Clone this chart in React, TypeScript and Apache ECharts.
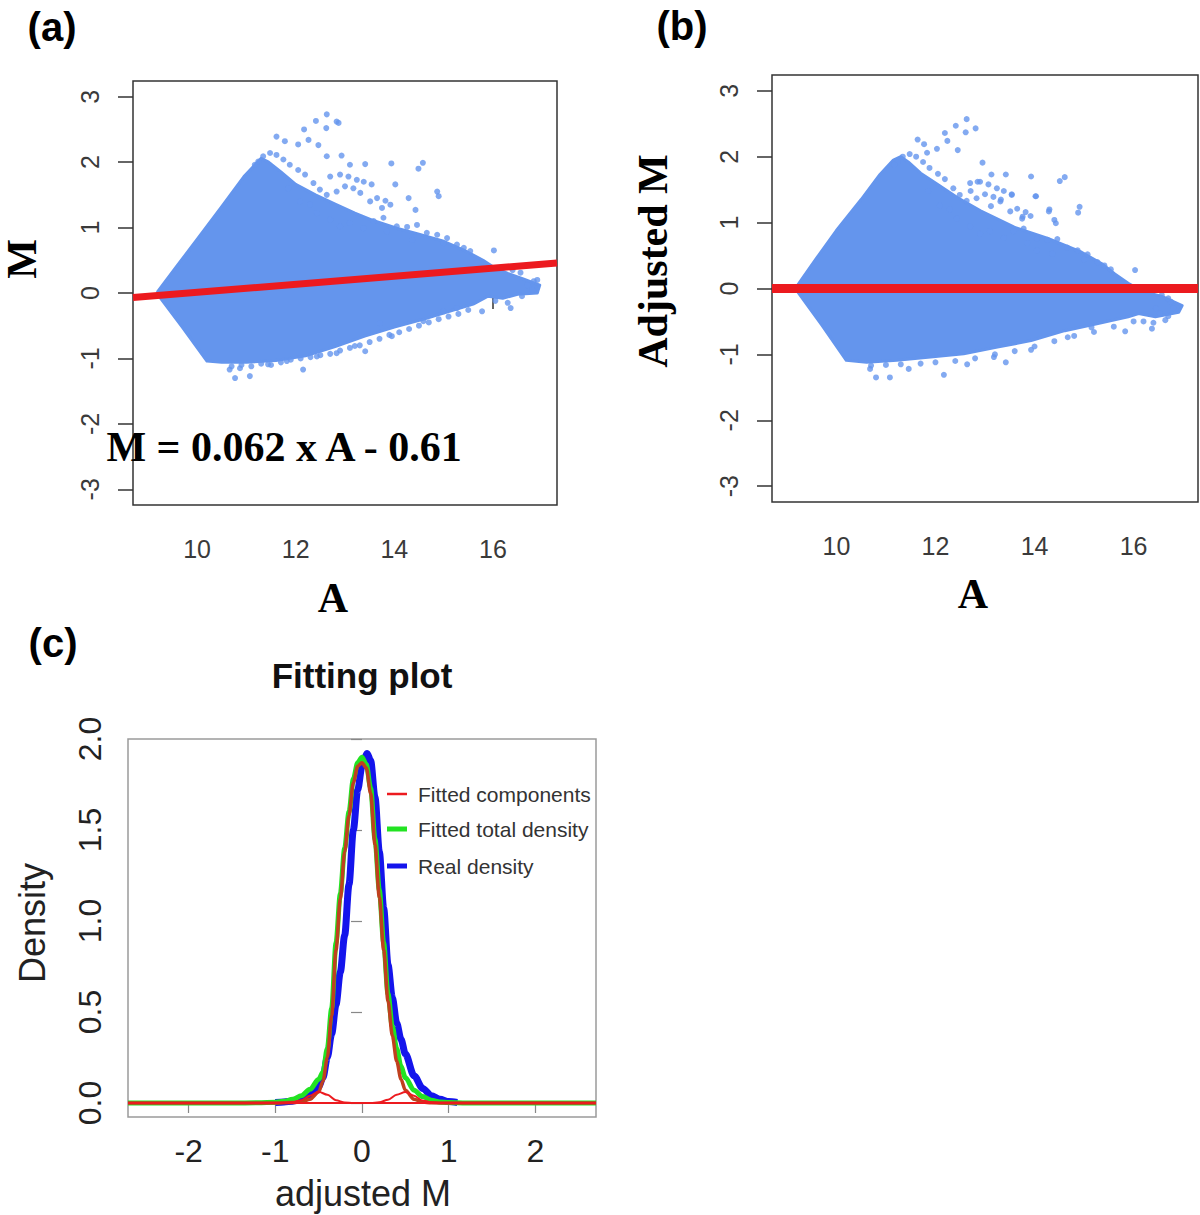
import React, { useEffect, useRef } from "react";
import * as echarts from "echarts";

// ---------- Data ----------
const A_TICKS = [10, 12, 14, 16];
const M_TICKS = [-3, -2, -1, 0, 1, 2, 3];
const ADJ_TICKS = [-2, -1, 0, 1, 2];
const DENS_TICKS = [0, 0.5, 1, 1.5, 2];

// Panel (a): outline of the solid point cloud (A, M)
const CLOUD_A = [
  [9.2, 0.02], [9.6, 0.42], [10.0, 0.82], [10.5, 1.32], [10.95, 1.78], [11.2, 1.98],
  [11.3, 2.06], [11.45, 2.0], [11.7, 1.85], [12.0, 1.66], [12.4, 1.5], [12.8, 1.36],
  [13.2, 1.22], [13.6, 1.1], [14.05, 0.99], [14.5, 0.9], [15.0, 0.79], [15.4, 0.66],
  [15.8, 0.5], [16.0, 0.4], [16.3, 0.3], [16.6, 0.22], [16.95, 0.12], [16.9, 0.0],
  [16.5, -0.02], [16.2, -0.08], [15.9, -0.05], [15.6, -0.17], [15.2, -0.26], [14.6, -0.4],
  [14.0, -0.52], [13.4, -0.66], [12.8, -0.82], [12.2, -0.96], [11.6, -1.03], [11.0, -1.06],
  [10.5, -1.06], [10.2, -1.04], [9.7, -0.52], [9.2, -0.02],
];
// Panel (a): single points outside the solid cloud
const DOTS_A = [
  [12.63, 2.73], [12.83, 2.62], [12.87, 2.6], [12.62, 2.52], [12.41, 2.63], [12.17, 2.5],
  [11.61, 2.39], [11.78, 2.32], [12.05, 2.27], [12.26, 2.34], [12.46, 2.26], [12.63, 2.09],
  [12.93, 2.1], [13.1, 1.96], [13.41, 1.97], [13.94, 1.98], [14.58, 1.99], [14.49, 1.9],
  [12.7, 1.78], [12.9, 1.81], [13.07, 1.78], [13.24, 1.73], [13.38, 1.7], [13.54, 1.66],
  [14.02, 1.66], [14.29, 1.45], [14.43, 1.27], [14.87, 1.55], [14.9, 1.48], [13.65, 1.45],
  [13.82, 1.41], [13.92, 1.35], [13.75, 1.3], [13.51, 1.4], [13.31, 1.53], [13.17, 1.6],
  [13.0, 1.63], [12.83, 1.55], [12.63, 1.5], [12.49, 1.58], [12.36, 1.68], [12.19, 1.81],
  [12.05, 1.88], [11.88, 1.96], [11.75, 2.04], [11.61, 2.11], [11.48, 2.14], [11.34, 2.09],
  [11.24, 2.01], [11.17, 1.96], [11.85, 1.6], [12.09, 1.4], [12.29, 1.35], [12.43, 1.22],
  [12.7, 1.12], [12.9, 1.02], [13.1, 1.07], [13.38, 0.99], [13.58, 1.1], [13.78, 1.15],
  [14.05, 1.02], [14.26, 1.01], [14.46, 1.04], [14.66, 0.92], [14.87, 0.89], [15.07, 0.84],
  [15.27, 0.74], [15.41, 0.69], [15.54, 0.64], [15.0, 0.76], [14.36, 0.81], [13.85, 0.94],
  [16.02, 0.65], [16.56, 0.31], [16.83, 0.18], [16.59, -0.05], [16.36, -0.23], [15.78, -0.28],
  [16.4, 0.35], [16.7, 0.12], [16.9, 0.2], [16.8, 0.05], [16.3, -0.15], [16.05, -0.12],
  [10.77, -1.3], [11.07, -1.27], [12.15, -1.17], [13.41, -0.89], [13.2, -0.81], [12.83, -0.92],
  [11.44, -1.09], [10.66, -1.17], [10.87, -1.15], [13.95, -0.66], [14.59, -0.43], [15.0, -0.28],
  [15.27, -0.23], [13.71, -0.46], [12.43, -0.97], [11.82, -1.04],
  [10.7, -1.12], [10.9, -1.1], [11.1, -1.12], [11.3, -1.08], [11.5, -1.1], [11.7, -1.06],
  [11.9, -1.02], [12.1, -1.0], [12.3, -0.98], [12.5, -0.95], [12.7, -0.93], [12.9, -0.88],
  [13.1, -0.84], [13.3, -0.8], [13.5, -0.75], [13.7, -0.7], [13.9, -0.64], [14.1, -0.6],
  [14.3, -0.55], [14.5, -0.5], [14.7, -0.45], [14.9, -0.4], [15.1, -0.36], [15.3, -0.32],
  [15.5, -0.26],
];
// Panel (a): fitted line M = 0.062 x A - 0.61, end points across the plot
const FIT_A = [[8.7, -0.07], [17.3, 0.46]];

// Panel (b): outline of the solid cloud (A, adjusted M)
const CLOUD_B = [
  [9.19, 0.02], [9.6, 0.46], [10.0, 0.88], [10.5, 1.35], [10.88, 1.73], [11.15, 1.95],
  [11.3, 2.0], [11.45, 1.92], [11.7, 1.75], [12.0, 1.6], [12.44, 1.38], [12.91, 1.18],
  [13.59, 0.93], [14.27, 0.76], [14.95, 0.55], [15.35, 0.38], [15.62, 0.22], [15.89, 0.08],
  [16.17, -0.04], [16.57, -0.12], [16.98, -0.26], [16.91, -0.36], [16.44, -0.43], [16.1, -0.38],
  [15.89, -0.43], [15.28, -0.53], [14.61, -0.64], [13.93, -0.79], [13.25, -0.89], [12.57, -0.99],
  [11.9, -1.04], [11.22, -1.09], [10.61, -1.12], [10.2, -1.09], [9.7, -0.55], [9.19, -0.02],
];
const DOTS_B = [
  [12.63, 2.57], [12.61, 2.37], [12.81, 2.43], [12.41, 2.47], [12.19, 2.36], [12.03, 2.12],
  [11.64, 2.26], [11.77, 2.19], [11.83, 2.06], [12.24, 2.24], [12.45, 2.1], [12.95, 1.91],
  [13.13, 1.73], [13.42, 1.73], [13.93, 1.7], [14.61, 1.69], [14.51, 1.63], [12.85, 1.62],
  [12.71, 1.48], [13.54, 1.42], [14.03, 1.4], [14.91, 1.24], [14.88, 1.15], [14.4, 1.04],
  [14.3, 1.2], [13.32, 1.35], [13.12, 1.25], [13.76, 1.09], [16.03, 0.28], [16.57, -0.1],
  [16.53, -0.38], [16.37, -0.61], [15.83, -0.65], [16.64, -0.48],
  [12.7, 1.6], [12.9, 1.62], [13.07, 1.58], [13.24, 1.52], [13.38, 1.48], [13.54, 1.43],
  [14.02, 1.4], [14.29, 1.17], [14.43, 0.99], [13.65, 1.21], [13.82, 1.16], [13.92, 1.1],
  [13.75, 1.06], [13.51, 1.17], [13.31, 1.32], [13.17, 1.39], [13.0, 1.43], [12.83, 1.37],
  [12.63, 1.33], [12.49, 1.42], [12.36, 1.52], [12.19, 1.66], [12.05, 1.74], [11.88, 1.83],
  [11.75, 1.92], [11.61, 2.0], [11.48, 2.04], [11.34, 2.0], [11.24, 1.92], [11.17, 1.88],
  [11.85, 1.48], [12.09, 1.26], [12.29, 1.2], [12.43, 1.06], [12.7, 0.94], [12.9, 0.83],
  [13.1, 0.87], [13.38, 0.77], [13.58, 0.87], [13.78, 0.91], [14.05, 0.76], [14.26, 0.74],
  [14.46, 0.75], [14.66, 0.62], [14.87, 0.58], [15.07, 0.52], [15.27, 0.4], [15.41, 0.35],
  [15.54, 0.29], [15.0, 0.44], [14.36, 0.53], [14.05, 0.58], [13.85, 0.69],
  [16.3, 0.0], [16.75, -0.2], [16.8, -0.3], [16.2, -0.5], [16.45, -0.3], [16.7, -0.15],
  [12.17, -1.31], [11.08, -1.35], [10.8, -1.35], [10.68, -1.22], [11.46, -1.22], [13.42, -1.12],
  [13.18, -1.04], [12.64, -1.15], [13.93, -0.93], [14.67, -0.74], [15.15, -0.59],
  [10.7, -1.17], [11.0, -1.16], [11.3, -1.15], [11.7, -1.14], [12.0, -1.12], [12.4, -1.1],
  [12.8, -1.06], [13.2, -1.0], [13.6, -0.95], [14.0, -0.88], [14.4, -0.8], [14.8, -0.72],
  [15.2, -0.66], [15.6, -0.58], [16.0, -0.5], [16.4, -0.52], [16.7, -0.42],
];
const FIT_B = [[8.7, 0], [17.3, 0]];

// Panel (c): densities over adjusted M
const REAL_DENSITY = [
  [-1.0, 0.003], [-0.9, 0.006], [-0.8, 0.01], [-0.7, 0.018],
  [-0.6, 0.04], [-0.5, 0.09], [-0.45, 0.14], [-0.4, 0.25], [-0.35, 0.38], [-0.3, 0.54],
  [-0.25, 0.72], [-0.2, 0.92], [-0.15, 1.2], [-0.1, 1.5], [-0.05, 1.72], [0.0, 1.85], [0.06, 1.92],
  [0.1, 1.88], [0.15, 1.68], [0.2, 1.38], [0.25, 1.07], [0.3, 0.76], [0.35, 0.58], [0.4, 0.44],
  [0.45, 0.35], [0.5, 0.27], [0.6, 0.15], [0.7, 0.08], [0.8, 0.04], [0.9, 0.02], [1.0, 0.008],
  [1.1, 0.003],
];
const FITTED_TOTAL = [
  [-2.7, 0], [-1.5, 0], [-1.2, 0.001], [-1.0, 0.004], [-0.9, 0.009], [-0.8, 0.02], [-0.7, 0.04],
  [-0.6, 0.075], [-0.5, 0.13], [-0.45, 0.17], [-0.4, 0.3], [-0.35, 0.52], [-0.3, 0.88],
  [-0.25, 1.15], [-0.2, 1.4], [-0.15, 1.6], [-0.1, 1.78], [-0.05, 1.87], [0.0, 1.9], [0.05, 1.86],
  [0.1, 1.73], [0.15, 1.45], [0.2, 1.17], [0.25, 0.88], [0.3, 0.6], [0.35, 0.42], [0.4, 0.3],
  [0.45, 0.2], [0.5, 0.14], [0.6, 0.07], [0.7, 0.035], [0.8, 0.015], [0.9, 0.006], [1.0, 0.002],
  [1.2, 0], [2.7, 0],
];
const COMPONENT_MAIN = [
  [-2.7, 0], [-1.0, 0], [-0.8, 0.002], [-0.7, 0.006], [-0.6, 0.02], [-0.5, 0.06], [-0.45, 0.12],
  [-0.4, 0.25], [-0.35, 0.48], [-0.3, 0.84], [-0.25, 1.12], [-0.2, 1.38], [-0.15, 1.58],
  [-0.1, 1.76], [-0.05, 1.85], [0.0, 1.87], [0.05, 1.84], [0.1, 1.7], [0.15, 1.42], [0.2, 1.13],
  [0.25, 0.84], [0.3, 0.56], [0.35, 0.37], [0.4, 0.23], [0.45, 0.13], [0.5, 0.07], [0.6, 0.02],
  [0.7, 0.005], [0.8, 0.001], [1.0, 0], [2.7, 0],
];
const COMPONENT_LEFT = [
  [-2.7, 0], [-0.9, 0], [-0.8, 0.004], [-0.7, 0.015], [-0.6, 0.04], [-0.5, 0.062], [-0.4, 0.045],
  [-0.3, 0.015], [-0.2, 0.003], [-0.1, 0], [2.7, 0],
];
const COMPONENT_RIGHT = [
  [-2.7, 0], [0.1, 0], [0.2, 0.004], [0.3, 0.018], [0.4, 0.045], [0.5, 0.06], [0.6, 0.04],
  [0.7, 0.013], [0.8, 0.003], [0.9, 0], [2.7, 0],
];
const LEGEND_C = ["Fitted components", "Fitted total density", "Real density"];

// ---------- Styles ----------
const SANS = '"Liberation Sans", Arial, Helvetica, sans-serif';
const SERIF = '"Liberation Serif", "Times New Roman", serif';
const CLOUD = "#6495ed";
const RED = "#ec1a1f";
const BROWN = "#c0401e";
const GREEN = "#22e322";
const BLUE = "#1414ec";

function cloudSeries(pts: number[][], idx: number) {
  return {
    type: "custom",
    xAxisIndex: idx,
    yAxisIndex: idx,
    data: pts,
    silent: true,
    z: 1,
    renderItem: (params: any, api: any) => {
      if (params.dataIndex !== 0) return null;
      const points = pts.map((p) => api.coord(p));
      return {
        type: "polygon",
        shape: { points },
        style: { fill: CLOUD, stroke: CLOUD, lineWidth: 3, lineJoin: "round" },
      };
    },
  };
}

function maAxes(idx: number) {
  const x = {
    type: "value",
    gridIndex: idx,
    min: 8.7,
    max: 17.3,
    axisLine: { show: false },
    splitLine: { show: false },
    axisTick: { show: true, inside: false, length: 16, lineStyle: { color: "#333", width: 1.5 }, customValues: A_TICKS },
    axisLabel: { customValues: A_TICKS, fontSize: 25, color: "#3a3a3a", margin: 31, fontFamily: SANS },
  };
  const y = {
    type: "value",
    gridIndex: idx,
    min: -3.24,
    max: 3.24,
    axisLine: { show: false },
    splitLine: { show: false },
    axisTick: { show: true, inside: false, length: 15, lineStyle: { color: "#333", width: 1.5 }, customValues: M_TICKS },
    axisLabel: { customValues: M_TICKS, rotate: 90, fontSize: 25, color: "#3a3a3a", margin: 31, fontFamily: SANS },
  };
  return { x, y };
}

function label(text: string, x: number, y: number, font: string, rot = 0, color = "#000") {
  return {
    type: "text",
    x,
    y,
    rotation: rot,
    silent: true,
    style: { text, x: 0, y: 0, align: "center", verticalAlign: "middle", font, fill: color },
  };
}

function curve(name: string | undefined, data: number[][], color: string, width: number, z: number) {
  return {
    name,
    type: "line",
    xAxisIndex: 2,
    yAxisIndex: 2,
    data,
    showSymbol: false,
    smooth: 0.3,
    smoothMonotone: "x",
    lineStyle: { color, width },
    silent: true,
    z,
  };
}

export default function App() {
  const ref = useRef<HTMLDivElement>(null);

  useEffect(() => {
    if (!ref.current) return;
    const chart = echarts.init(ref.current, null, { renderer: "svg" });
    const a = maAxes(0);
    const b = maAxes(1);
    const legendY = [794, 829, 866];
    const legendColor = [RED, GREEN, BLUE];
    const legendWidth = [2.5, 5, 5];

    const option: any = {
      animation: false,
      backgroundColor: "#fff",
      textStyle: { fontFamily: SANS },
      grid: [
        { left: 133, top: 81, width: 424, height: 424, show: true, borderColor: "#333", borderWidth: 1.5, backgroundColor: "transparent" },
        { left: 772, top: 75, width: 426, height: 427, show: true, borderColor: "#333", borderWidth: 1.5, backgroundColor: "transparent" },
        { left: 128, top: 739, width: 468, height: 378, show: true, borderColor: "#9a9a9a", borderWidth: 1.5, backgroundColor: "transparent" },
      ],
      xAxis: [
        a.x,
        b.x,
        {
          type: "value",
          gridIndex: 2,
          min: -2.7,
          max: 2.7,
          axisLine: { show: false },
          splitLine: { show: false },
          axisTick: { show: true, inside: false, length: 10, lineStyle: { color: "#888", width: 1.2 }, customValues: ADJ_TICKS },
          axisLabel: { customValues: ADJ_TICKS, fontSize: 32, color: "#222", margin: 18, fontFamily: SANS },
        },
      ],
      yAxis: [
        a.y,
        b.y,
        {
          type: "value",
          gridIndex: 2,
          min: -0.077,
          max: 2.0,
          axisLine: { show: false },
          splitLine: { show: false },
          axisTick: { show: true, inside: false, length: 11, lineStyle: { color: "#888", width: 1.2 }, customValues: DENS_TICKS },
          axisLabel: {
            customValues: DENS_TICKS,
            rotate: 90,
            fontSize: 32,
            color: "#222",
            margin: 22,
            fontFamily: SANS,
            formatter: (v: number) => v.toFixed(1),
          },
        },
      ],
      series: [
        cloudSeries(CLOUD_A, 0),
        { type: "scatter", xAxisIndex: 0, yAxisIndex: 0, data: DOTS_A, symbolSize: 6, itemStyle: { color: CLOUD }, silent: true, z: 2 },
        { type: "line", xAxisIndex: 0, yAxisIndex: 0, data: FIT_A, showSymbol: false, lineStyle: { color: RED, width: 7 }, silent: true, z: 3 },
        cloudSeries(CLOUD_B, 1),
        { type: "scatter", xAxisIndex: 1, yAxisIndex: 1, data: DOTS_B, symbolSize: 6, itemStyle: { color: CLOUD }, silent: true, z: 2 },
        { type: "line", xAxisIndex: 1, yAxisIndex: 1, data: FIT_B, showSymbol: false, lineStyle: { color: RED, width: 9 }, silent: true, z: 3 },
        curve("Real density", REAL_DENSITY, BLUE, 7, 2),
        curve("Fitted total density", FITTED_TOTAL, GREEN, 5, 3),
        curve("Fitted components", COMPONENT_MAIN, BROWN, 3.5, 4),
        curve(undefined, COMPONENT_LEFT, RED, 2, 4),
        curve(undefined, COMPONENT_RIGHT, RED, 2, 4),
      ],
      graphic: [
        label("(a)", 52, 27, `bold 40px ${SANS}`),
        label("(b)", 682, 26, `bold 40px ${SANS}`),
        label("(c)", 53, 643, `bold 40px ${SANS}`),
        label("M", 22, 259, `bold 42px ${SERIF}`, Math.PI / 2),
        label("A", 333, 598, `bold 42px ${SERIF}`),
        label("M = 0.062 x A - 0.61", 284, 447, `bold 42px ${SERIF}`),
        label("Adjusted M", 653, 261, `bold 42px ${SERIF}`, Math.PI / 2),
        label("A", 973, 594, `bold 42px ${SERIF}`),
        label("Fitting plot", 362, 675, `bold 35px ${SANS}`, 0, "#111"),
        label("Density", 32, 923, `36px ${SANS}`, Math.PI / 2, "#222"),
        label("adjusted M", 363, 1193, `36px ${SANS}`, 0, "#222"),
        ...LEGEND_C.map((t, i) => ({
          type: "line",
          silent: true,
          shape: { x1: 387, y1: legendY[i], x2: 407, y2: legendY[i] },
          style: { stroke: legendColor[i], lineWidth: legendWidth[i] },
        })),
        ...LEGEND_C.map((t, i) => ({
          type: "text",
          silent: true,
          x: 418,
          y: legendY[i],
          style: { text: t, x: 0, y: 0, align: "left", verticalAlign: "middle", font: `21px ${SANS}`, fill: "#333" },
        })),
      ],
    };
    chart.setOption(option);
    return () => chart.dispose();
  }, []);

  return (
    <div
      ref={ref}
      style={{ position: "absolute", left: 0, top: 0, width: 1200, height: 1215, background: "#fff" }}
    />
  );
}
